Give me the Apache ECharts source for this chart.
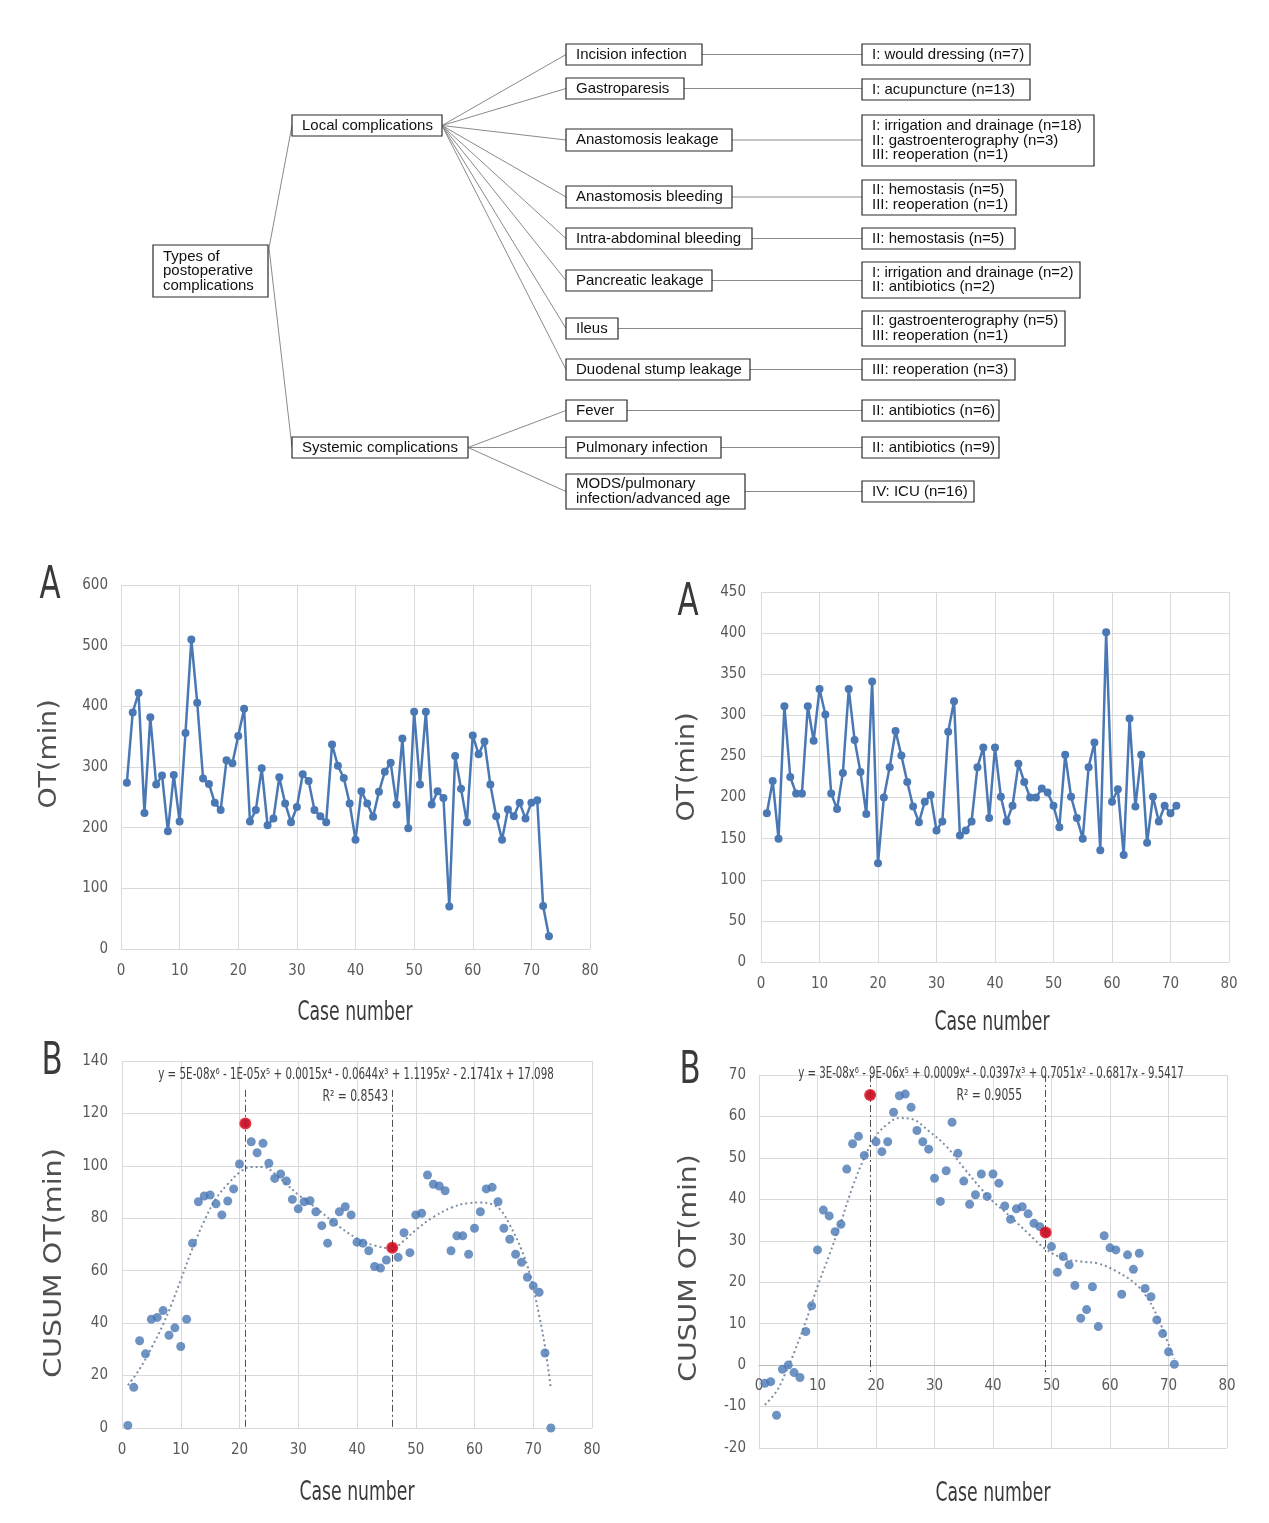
<!DOCTYPE html>
<html><head><meta charset="utf-8">
<script src="https://cdn.jsdelivr.net/npm/echarts@6.0.0/dist/echarts.min.js"></script>
<style>html,body{margin:0;padding:0;background:#fff}#c{width:1269px;height:1523px}</style>
</head><body><div id="c"></div>
<script>
// ---------------- DATA ----------------
const rootLabel = 'Types of\npostoperative\ncomplications';
const groupLabels = ['Local complications', 'Systemic complications'];
const complicationLabels = ['Incision infection', 'Gastroparesis', 'Anastomosis leakage', 'Anastomosis bleeding',
  'Intra-abdominal bleeding', 'Pancreatic leakage', 'Ileus', 'Duodenal stump leakage', 'Fever',
  'Pulmonary infection', 'MODS/pulmonary\ninfection/advanced age'];
const complicationGroup = [0, 0, 0, 0, 0, 0, 0, 0, 1, 1, 1];
const treatmentLabels = ['I: would dressing (n=7)', 'I: acupuncture (n=13)',
  'I: irrigation and drainage (n=18)\nII: gastroenterography (n=3)\nIII: reoperation (n=1)',
  'II: hemostasis (n=5)\nIII: reoperation (n=1)', 'II: hemostasis (n=5)',
  'I: irrigation and drainage (n=2)\nII: antibiotics (n=2)',
  'II: gastroenterography (n=5)\nIII: reoperation (n=1)', 'III: reoperation (n=3)',
  'II: antibiotics (n=6)', 'II: antibiotics (n=9)', 'IV: ICU (n=16)'];

const panelLetters = ['A', 'A', 'B', 'B'];
const xAxisName = 'Case number';
const yAxisNames = ['OT(min)', 'OT(min)', 'CUSUM OT(min)', 'CUSUM OT(min)'];
const caseAxis = [0, 80, 10];          // min, max, interval
const otLeftAxis = [0, 600, 100];
const otRightAxis = [0, 450, 50];
const cusumLeftAxis = [0, 140, 20];
const cusumRightAxis = [-20, 70, 10];

const otLeft = [274, 390, 422, 224, 382, 271, 286, 194, 287, 210, 356, 510, 406, 281, 272, 241, 229, 311, 306, 351,
  396, 210, 229, 298, 204, 215, 283, 240, 209, 234, 288, 277, 229, 219, 209, 337, 302, 282, 240, 180,
  260, 240, 218, 259, 292, 307, 238, 347, 199, 391, 271, 391, 238, 260, 249, 70, 318, 264, 209, 352,
  321, 342, 271, 219, 180, 230, 219, 241, 215, 241, 245, 71, 21];
const otRight = [181, 220, 150, 311, 225, 205, 205, 311, 269, 332, 301, 205, 186, 230, 332, 270, 231, 180, 341, 120,
  200, 237, 281, 251, 219, 189, 170, 195, 203, 160, 171, 280, 317, 154, 160, 171, 237, 261, 175, 261,
  201, 171, 190, 241, 219, 200, 200, 211, 206, 190, 164, 252, 201, 175, 150, 237, 267, 136, 401, 195,
  210, 130, 296, 189, 252, 145, 201, 171, 190, 181, 190];
const cusumLeft = [1.0, 15.5, 33.3, 28.3, 41.5, 42.2, 44.8, 35.4, 38.2, 31.1, 41.5, 70.5, 86.3, 88.5, 88.9, 85.5,
  81.3, 86.6, 91.2, 100.7, 116.2, 109.2, 105.0, 108.6, 101.0, 95.2, 96.9, 94.2, 87.2, 83.6, 86.3, 86.7,
  82.5, 77.2, 70.5, 78.5, 82.5, 84.4, 81.3, 70.9, 70.5, 67.6, 61.6, 61.0, 64.1, 68.8, 65.1, 74.5, 66.9,
  81.3, 81.9, 96.5, 93.0, 92.3, 90.5, 67.6, 73.3, 73.3, 66.3, 76.2, 82.5, 91.2, 91.8, 86.3, 76.2, 72.0,
  66.3, 63.2, 57.5, 54.2, 51.8, 28.6, 0];
const cusumRight = [-4.4, -4.0, -12.1, -1.0, 0.0, -1.8, -3.0, 8.1, 14.3, 27.8, 37.4, 36.0, 32.2, 34.0, 47.3, 53.4,
  55.2, 50.6, 65.2, 53.9, 51.5, 53.9, 61.0, 65.0, 65.4, 62.2, 56.6, 53.9, 52.1, 45.1, 39.5, 46.9, 58.6,
  51.1, 44.4, 38.8, 41.1, 46.1, 40.7, 46.1, 43.9, 38.4, 35.2, 37.7, 38.2, 36.5, 34.2, 33.4, 32.0, 28.6,
  22.4, 26.2, 24.2, 19.2, 11.3, 13.4, 18.9, 9.3, 31.2, 28.3, 27.8, 17.1, 26.6, 23.1, 27.0, 18.5, 16.5,
  10.9, 7.6, 3.2, 0.2];
// polynomial trend lines
const trendLeftCase = [1, 3, 5, 7, 8.5, 10, 12, 14, 16, 18, 20, 22, 24, 26, 28, 30, 33, 36, 40, 43, 46, 48, 50, 53, 56, 59, 61, 63, 64.5, 66, 68, 69.5, 71, 72, 73];
const trendLeftValue = [16.3, 22.5, 30.5, 39.5, 47.6, 56.5, 68.5, 79, 87.5, 93, 97.5, 99.6, 99.6, 97, 93, 89, 84, 78.5, 72.3, 69.6, 68.6, 71.5, 75.5, 80.5, 84, 85.8, 86, 85.3, 83, 77.5, 68, 58, 43, 31, 15];
const trendRightCase = [1, 3, 4.5, 6, 8, 10, 12, 14, 16, 18, 20, 22, 24, 26, 29, 32, 35, 38, 40, 43, 46, 49, 52, 55, 58, 61, 64, 66, 68, 70, 71];
const trendRightValue = [-9.6, -6.3, -2, 3, 10.5, 19, 26.5, 34.5, 43, 50, 55.3, 58.2, 59.6, 59.4, 56.5, 52.8, 47.6, 42.5, 39.5, 35.8, 31.8, 28, 25.8, 25, 24.5, 22.7, 20, 17, 12, 5, 1.5];
const changeLeft = [21, 46];
const changeRight = [19, 49];
const equationLeft = 'y = 5E-08x⁶ - 1E-05x⁵ + 0.0015x⁴ - 0.0644x³ + 1.1195x² - 2.1741x + 17.098';
const r2Left = 'R² = 0.8543';
const equationRight = 'y = 3E-08x⁶ - 9E-06x⁵ + 0.0009x⁴ - 0.0397x³ + 0.7051x² - 0.6817x - 9.5417';
const r2Right = 'R² = 0.9055';

// ---------------- LAYOUT / STYLE ----------------
const NARROW = "'Liberation Sans Narrow','DejaVu Sans Condensed',sans-serif";
const SANS = "'Liberation Sans',Arial,sans-serif";
const BLUE = '#4a78b4';
const GRIDC = '#d9d9d9';
const tree = {
  root: [153, 245, 115, 52],
  groups: [[292, 115, 150, 21], [292, 437, 176, 21]],
  rootJoint: [269, 248],
  compX: 566,
  compW: [136, 118, 166, 166, 186, 146, 52, 184, 61, 155, 179],
  compY: [44, 78, 129, 186, 228, 270, 318, 359, 400, 437, 474],
  compH: [21, 21, 22, 22, 21, 21, 21, 21, 21, 21, 35],
  treatX: 862,
  treatW: [168, 168, 232, 154, 153, 218, 203, 153, 137, 137, 112],
  treatY: [44, 79, 115, 180, 228, 262, 311, 359, 400, 437, 481],
  treatH: [21, 21, 51, 35, 21, 36, 35, 21, 21, 21, 21]
};
const grids = [
  { left: 121, top: 585, width: 469, height: 364 },
  { left: 761, top: 592, width: 468, height: 370 },
  { left: 122, top: 1061, width: 470, height: 367 },
  { left: 759, top: 1075, width: 468, height: 373 }
];
const letterPos = [[50, 587], [688, 604], [52, 1063], [690, 1072]];
const xNamePos = [[355, 1013], [992, 1023], [357, 1493], [993, 1494]];
const yNamePos = [[50, 754], [688, 767], [55, 1263], [690, 1268]];
const yNameStretch = [1.12, 1.12, 1.19, 1.18];

const graphics = [];
function box(x, y, w, h, text) {
  graphics.push({ type: 'rect', z: 10, shape: { x: x, y: y, width: w, height: h },
    style: { fill: '#fff', stroke: '#2a2a2a', lineWidth: 1.2 } });
  graphics.push({ type: 'text', z: 11, x: x + 10, y: y + h / 2,
    style: { text: text, font: '15px ' + SANS, fill: '#111', textAlign: 'left', textVerticalAlign: 'middle',
      align: 'left', verticalAlign: 'middle', lineHeight: 14.5 } });
}
function seg(x1, y1, x2, y2) {
  graphics.push({ type: 'line', z: 5, shape: { x1: x1, y1: y1, x2: x2, y2: y2 },
    style: { stroke: '#8a8a8a', lineWidth: 1 } });
}
function txt(text, x, y, font, fill, align, sx, rot) {
  graphics.push({ type: 'text', z: 20, x: x, y: y, scaleX: sx || 1, rotation: rot || 0,
    style: { text: text, font: font, fill: fill, textAlign: align, textVerticalAlign: 'middle', align: align, verticalAlign: 'middle' } });
}
// tree connectors
const rj = tree.rootJoint;
tree.groups.forEach(g => seg(rj[0], rj[1], g[0], g[1] + g[3] / 2));
complicationLabels.forEach((lab, i) => {
  const g = tree.groups[complicationGroup[i]];
  const cy = tree.compY[i] + tree.compH[i] / 2;
  seg(g[0] + g[2], g[1] + g[3] / 2, tree.compX, cy);
  seg(tree.compX + tree.compW[i], cy, tree.treatX, cy);
});
box(tree.root[0], tree.root[1], tree.root[2], tree.root[3], rootLabel);
groupLabels.forEach((lab, i) => { const g = tree.groups[i]; box(g[0], g[1], g[2], g[3], lab); });
complicationLabels.forEach((lab, i) => box(tree.compX, tree.compY[i], tree.compW[i], tree.compH[i], lab));
treatmentLabels.forEach((lab, i) => box(tree.treatX, tree.treatY[i], tree.treatW[i], tree.treatH[i], lab));

// panel letters, axis names, equations
panelLetters.forEach((l, i) => txt(l, letterPos[i][0], letterPos[i][1], '44px ' + NARROW, '#3a3a3a', 'center', 0.78));
xNamePos.forEach(p => txt(xAxisName, p[0], p[1], '27px ' + NARROW, '#3a3a3a', 'center', 0.71));
yAxisNames.forEach((n, i) => txt(n, yNamePos[i][0], yNamePos[i][1], "24px 'DejaVu Sans',sans-serif", '#505050', 'center', yNameStretch[i], Math.PI / 2));
txt(equationLeft, 356, 1075, '15px ' + NARROW, '#404040', 'center', 0.765);
txt(r2Left, 388, 1097, '15px ' + NARROW, '#404040', 'right', 0.8);
txt(equationRight, 991, 1074, '15px ' + NARROW, '#404040', 'center', 0.755);
txt(r2Right, 1022, 1096, '15px ' + NARROW, '#404040', 'right', 0.8);

function xAx(gi, labelMargin, offset, axisColor) {
  return { type: 'value', gridIndex: gi, min: caseAxis[0], max: caseAxis[1], interval: caseAxis[2],
    offset: offset, position: 'bottom',
    axisLine: { show: true, onZero: false, lineStyle: { color: axisColor || GRIDC, width: 1 } },
    axisTick: { show: false },
    axisLabel: { fontFamily: NARROW, fontSize: 15, color: '#595959', margin: labelMargin, showMinLabel: true, showMaxLabel: true },
    splitLine: { show: true, lineStyle: { color: GRIDC, width: 1 } } };
}
function yAx(gi, rng, labelMargin) {
  return { type: 'value', gridIndex: gi, min: rng[0], max: rng[1], interval: rng[2],
    axisLine: { show: false }, axisTick: { show: false },
    axisLabel: { fontFamily: NARROW, fontSize: 15, color: '#595959', margin: labelMargin, showMinLabel: true, showMaxLabel: true },
    splitLine: { show: true, lineStyle: { color: GRIDC, width: 1 } } };
}
const pairs = arr => arr.map((v, i) => [i + 1, v]);
const zip = (a, b) => a.map((v, i) => [v, b[i]]);
function changeSeries(xi, changes, values, top, bottom) {
  return { type: 'scatter', xAxisIndex: xi, yAxisIndex: xi, z: 5, symbolSize: 12,
    itemStyle: { color: '#e00010' }, data: changes.map(c => [c, values[c - 1]]),
    markLine: { silent: true, symbol: ['none', 'none'], label: { show: false },
      lineStyle: { color: '#505050', width: 1, type: [7, 3, 2, 3] },
      data: changes.map(c => [{ coord: [c, top] }, { coord: [c, bottom] }]) } };
}
// offset that lifts the last x axis up to the zero line of its y axis
const zeroOffset = -grids[3].height * (0 - cusumRightAxis[0]) / (cusumRightAxis[1] - cusumRightAxis[0]);

const chart = echarts.init(document.getElementById('c'), null, { renderer: 'canvas' });
chart.setOption({
  animation: false,
  backgroundColor: '#fff',
  grid: grids.map(g => Object.assign({ outerBoundsMode: 'none', containLabel: false }, g)),
  xAxis: [xAx(0, 15, 0), xAx(1, 15, 0), xAx(2, 15, 0), xAx(3, 13, zeroOffset, '#bdbdbd')],
  yAxis: [yAx(0, otLeftAxis, 13), yAx(1, otRightAxis, 15), yAx(2, cusumLeftAxis, 14), yAx(3, cusumRightAxis, 13)],
  graphic: { elements: graphics },
  series: [
    { type: 'line', xAxisIndex: 0, yAxisIndex: 0, data: pairs(otLeft), symbol: 'circle', symbolSize: 8,
      lineStyle: { color: BLUE, width: 2.5 }, itemStyle: { color: BLUE } },
    { type: 'line', xAxisIndex: 1, yAxisIndex: 1, data: pairs(otRight), symbol: 'circle', symbolSize: 8,
      lineStyle: { color: BLUE, width: 2.5 }, itemStyle: { color: BLUE } },
    { type: 'line', xAxisIndex: 2, yAxisIndex: 2, data: zip(trendLeftCase, trendLeftValue), smooth: 0.4, symbol: 'none',
      lineStyle: { color: '#7d8fa6', width: 2, type: [2, 3] }, z: 1 },
    { type: 'scatter', xAxisIndex: 2, yAxisIndex: 2, data: pairs(cusumLeft), symbolSize: 9, itemStyle: { color: BLUE } },
    changeSeries(2, changeLeft, cusumLeft, 129, 0),
    { type: 'line', xAxisIndex: 3, yAxisIndex: 3, data: zip(trendRightCase, trendRightValue), smooth: 0.4, symbol: 'none',
      lineStyle: { color: '#7d8fa6', width: 2, type: [2, 3] }, z: 1 },
    { type: 'scatter', xAxisIndex: 3, yAxisIndex: 3, data: pairs(cusumRight), symbolSize: 9, itemStyle: { color: BLUE } },
    changeSeries(3, changeRight, cusumRight, 70, -2)
  ]
});
</script>
</body></html>
